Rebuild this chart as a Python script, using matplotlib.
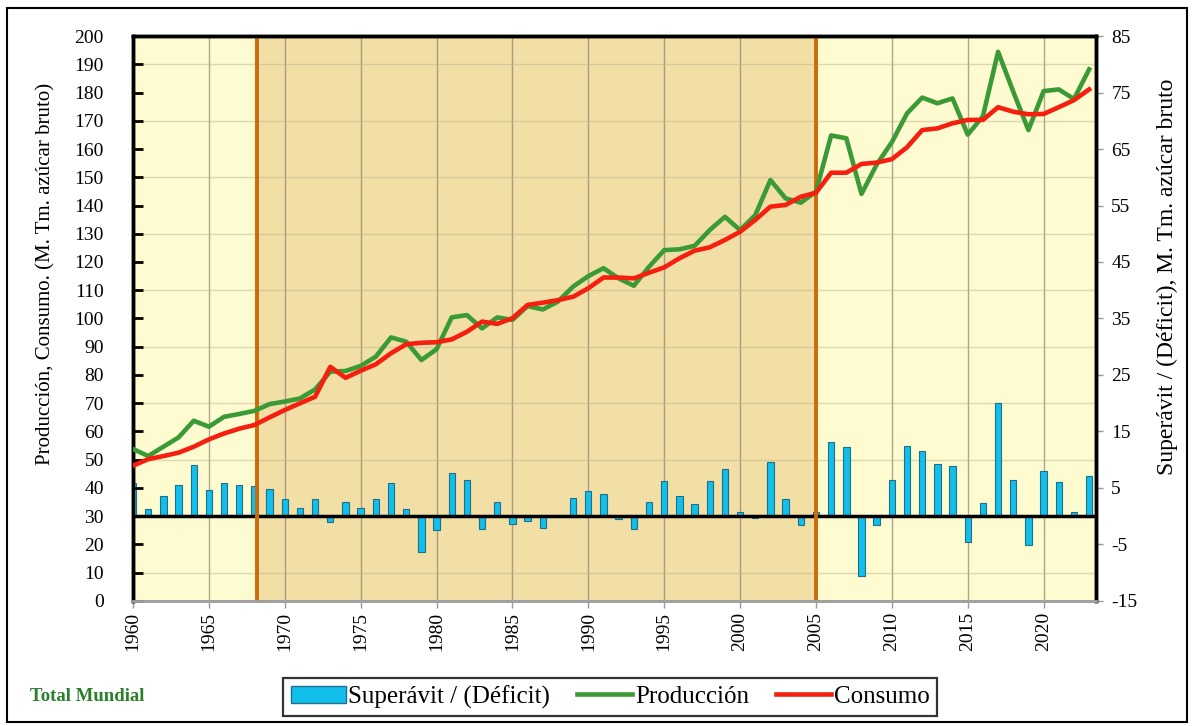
import numpy as np
import matplotlib
matplotlib.use('Agg')
import matplotlib.pyplot as plt
from matplotlib.patches import Patch, Rectangle
from matplotlib.lines import Line2D

plt.rcParams['font.family'] = ['Liberation Serif', 'DejaVu Serif']
plt.rcParams['axes.unicode_minus'] = False

years = list(range(1960, 2024))

produccion = [53.8, 51.3, 54.6, 57.9, 63.8, 61.7, 65.2, 66.2, 67.3, 69.7,
              70.6, 71.7, 74.9, 81.2, 81.4, 83.2, 86.5, 93.3, 91.8, 85.3,
              89.1, 100.4, 101.2, 96.5, 100.4, 99.5, 104.4, 103.2, 106.0, 111.3,
              115.0, 117.8, 114.2, 111.6, 118.3, 124.2, 124.5, 125.7, 131.3, 136.0,
              131.3, 136.6, 149.0, 142.5, 141.0, 144.9, 164.8, 163.8, 144.1, 154.5,
              162.4, 172.6, 178.2, 176.2, 177.9, 165.1, 171.6, 194.4, 180.3, 166.7,
              180.5, 181.1, 177.7, 188.2]

consumo = [47.9, 50.2, 51.3, 52.5, 54.6, 57.2, 59.3, 61.0, 62.3, 65.0,
           67.6, 70.0, 72.3, 82.9, 79.0, 81.5, 83.8, 87.7, 90.9, 91.4,
           91.6, 92.6, 95.3, 98.9, 98.1, 100.1, 104.8, 105.6, 106.5, 107.7,
           110.7, 114.5, 114.5, 114.2, 116.2, 118.1, 121.3, 124.0, 125.2, 127.8,
           130.7, 134.9, 139.6, 140.2, 143.1, 144.5, 151.6, 151.6, 154.7, 155.2,
           156.4, 160.6, 166.7, 167.3, 169.1, 170.3, 170.3, 174.8, 173.2, 172.3,
           172.4, 174.8, 177.3, 181.1]

superavit = [5.9, 1.3, 3.6, 5.6, 9.1, 4.6, 5.9, 5.6, 5.4, 4.9,
             3.1, 1.4, 3.0, -1.0, 2.5, 1.4, 3.0, 5.8, 1.3, -6.3,
             -2.4, 7.7, 6.4, -2.3, 2.5, -1.3, -0.8, -2.1, 0.1, 3.2,
             4.5, 3.9, -0.5, -2.3, 2.6, 6.2, 3.6, 2.2, 6.2, 8.3,
             0.7, -0.4, 9.6, 3.0, -1.6, 0.7, 13.1, 12.3, -10.5, -1.5,
             6.4, 12.4, 11.5, 9.2, 8.9, -4.6, 2.4, 20.0, 6.5, -5.1,
             8.0, 6.1, 0.8, 7.2]

periodo_ini = 1968.2
periodo_fin = 2005

fig = plt.figure(figsize=(11.94, 7.26), dpi=100)
ax2 = fig.add_axes([0.1114, 0.1722, 0.8065, 0.7782])   # barras, eje derecho
ax = ax2.twinx()                                         # lineas, eje izquierdo
ax.yaxis.tick_left()
ax.yaxis.set_label_position('left')
ax2.yaxis.tick_right()
ax2.yaxis.set_label_position('right')
ax.set_zorder(ax2.get_zorder() + 1)
ax.patch.set_visible(False)

xmin, xmax = 1960, 2023.45
ax2.set_xlim(xmin, xmax)
ax2.set_ylim(-15, 85)
ax.set_ylim(0, 200)

# fondo por periodos
ax2.axvspan(xmin, periodo_ini, color='#FEFBD0', zorder=0, lw=0)
ax2.axvspan(periodo_ini, periodo_fin, color='#F2DFA6', zorder=0, lw=0)
ax2.axvspan(periodo_fin, xmax, color='#FEFBD0', zorder=0, lw=0)

# rejilla
ax2.set_yticks(np.arange(-15, 86, 10))
ax2.set_yticks(np.arange(-15, 86, 5), minor=True)
ax2.grid(True, axis='y', which='minor', color='#B8AE8A', alpha=0.45, lw=1, zorder=1)
ax2.set_xticks(np.arange(1960, 2024, 5))
ax2.grid(True, axis='x', which='major', color='#7A7060', alpha=0.6, lw=1, zorder=1)
ax2.set_axisbelow(True)

ax2.bar(years, superavit, width=0.42, color='#12BFEA', edgecolor='#1E6E8C',
        linewidth=0.8, zorder=3, label='Superávit / (Déficit)')
ax2.axhline(0, color='black', lw=2.5, zorder=4)
ax2.axvline(periodo_ini, color='#CC6A0A', lw=2.8, zorder=4)
ax2.axvline(periodo_fin, color='#CC6A0A', lw=2.8, zorder=4)

ax.plot(years, produccion, color='#3A9A35', lw=3.3, label='Producción', zorder=5)
ax.plot(years, consumo, color='#F51E0F', lw=3.3, label='Consumo', zorder=6)

ax.set_yticks(np.arange(0, 201, 10))
ax.tick_params(axis='y', direction='in', length=7, width=2, color='black',
               labelsize=14, pad=21)
ax2.tick_params(axis='y', which='major', direction='out', length=5, width=1,
                color='#999999', labelsize=14, pad=6)
ax2.tick_params(axis='y', which='minor', length=0)
ax2.tick_params(axis='x', direction='out', length=5, width=1, color='#999999',
                labelsize=14, rotation=90, pad=3)
ax.tick_params(axis='x', length=0)

ax.set_ylabel('Producción, Consumo. (M. Tm. azúcar bruto)', fontsize=15)
ax.yaxis.set_label_coords(-0.081, 0.578)
ax2.set_ylabel('Superávit / (Déficit), M. Tm. azúcar bruto', fontsize=17)
ax2.yaxis.set_label_coords(1.063, 0.573)

for a in (ax, ax2):
    a.spines['top'].set_linewidth(2.5)
    a.spines['left'].set_linewidth(2.5)
    a.spines['right'].set_linewidth(2.5)
    a.spines['bottom'].set_color('#A0A0A0')
    a.spines['bottom'].set_linewidth(2)

handles = [Patch(facecolor='#12BFEA', edgecolor='#1E6E8C', label='Superávit / (Déficit)'),
           Line2D([], [], color='#3A9A35', lw=3.3, label='Producción'),
           Line2D([], [], color='#F51E0F', lw=3.3, label='Consumo')]
leg = fig.legend(handles=handles, loc='center', bbox_to_anchor=(0.511, 0.040),
                 ncol=3, fontsize=18, frameon=True, fancybox=False,
                 edgecolor='black', handlelength=2.2, handletextpad=0.1,
                 columnspacing=1.1, borderpad=0.3)
leg.get_frame().set_linewidth(1.6)

fig.text(0.025, 0.040, 'Total Mundial', color='#2A7F2A', fontsize=13.5,
         fontweight='bold', va='center', ha='left')

fig.patches.append(Rectangle((0.006, 0.006), 0.988, 0.983, transform=fig.transFigure,
                             fill=False, edgecolor='black', lw=1.5))

fig.savefig('out.png', dpi=100)
